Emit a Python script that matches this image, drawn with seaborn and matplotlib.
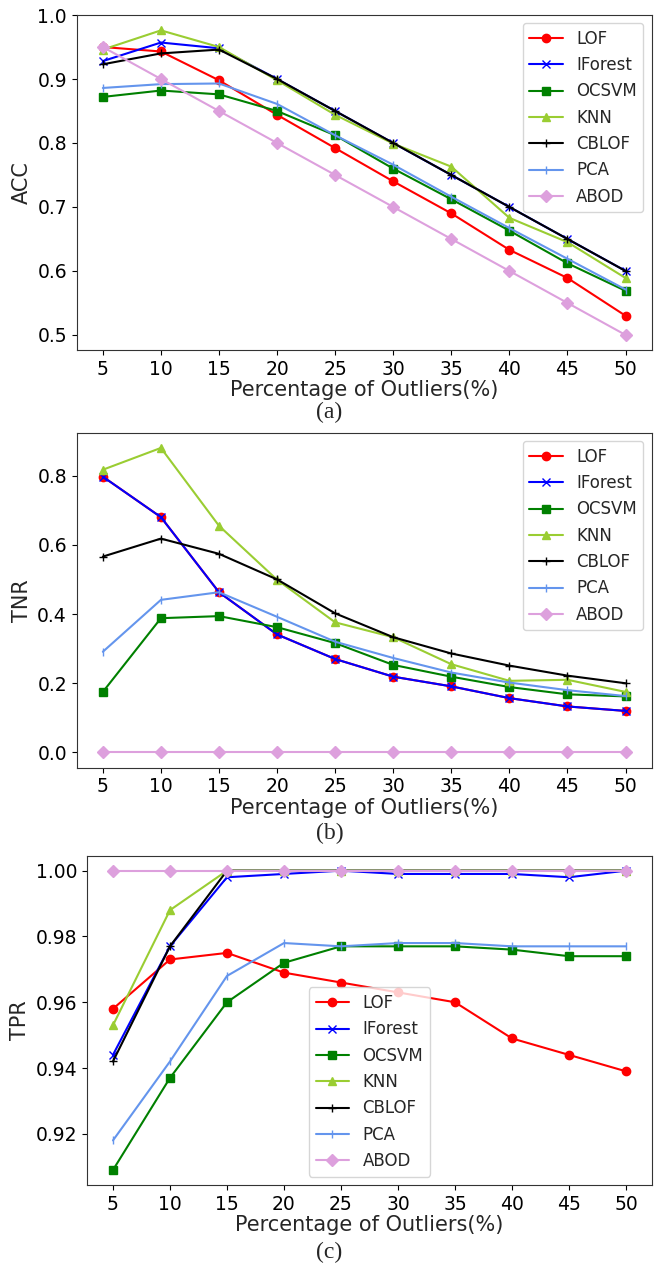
import numpy as np
import pandas as pd
import matplotlib
matplotlib.use("Agg")
import matplotlib.pyplot as plt
import seaborn as sns

pct = [5, 10, 15, 20, 25, 30, 35, 40, 45, 50]
methods = ["LOF", "IForest", "OCSVM", "KNN", "CBLOF", "PCA", "ABOD"]

acc_lof = [0.950, 0.943, 0.898, 0.844, 0.792, 0.740, 0.690, 0.633, 0.589, 0.530]
acc_iforest = [0.928, 0.957, 0.948, 0.900, 0.850, 0.800, 0.750, 0.700, 0.650, 0.600]
acc_ocsvm = [0.872, 0.882, 0.876, 0.850, 0.812, 0.760, 0.712, 0.663, 0.612, 0.569]
acc_knn = [0.946, 0.976, 0.950, 0.898, 0.844, 0.799, 0.763, 0.683, 0.645, 0.589]
acc_cblof = [0.923, 0.940, 0.946, 0.900, 0.850, 0.800, 0.750, 0.700, 0.650, 0.600]
acc_pca = [0.886, 0.892, 0.893, 0.861, 0.812, 0.766, 0.716, 0.667, 0.619, 0.571]
acc_abod = [0.950, 0.900, 0.850, 0.800, 0.750, 0.700, 0.650, 0.600, 0.550, 0.500]

tnr_lof = [0.797, 0.680, 0.463, 0.341, 0.270, 0.219, 0.191, 0.157, 0.133, 0.120]
tnr_iforest = [0.797, 0.680, 0.463, 0.341, 0.270, 0.219, 0.191, 0.157, 0.133, 0.120]
tnr_ocsvm = [0.175, 0.388, 0.394, 0.362, 0.316, 0.253, 0.219, 0.189, 0.168, 0.162]
tnr_knn = [0.817, 0.880, 0.655, 0.499, 0.376, 0.333, 0.255, 0.207, 0.210, 0.175]
tnr_cblof = [0.566, 0.618, 0.574, 0.500, 0.402, 0.333, 0.286, 0.251, 0.222, 0.200]
tnr_pca = [0.291, 0.441, 0.463, 0.392, 0.320, 0.273, 0.231, 0.202, 0.180, 0.163]
tnr_abod = [0.0] * 10

tpr_lof = [0.958, 0.973, 0.975, 0.969, 0.966, 0.963, 0.960, 0.949, 0.944, 0.939]
tpr_iforest = [0.944, 0.977, 0.998, 0.999, 1.000, 0.999, 0.999, 0.999, 0.998, 1.000]
tpr_ocsvm = [0.909, 0.937, 0.960, 0.972, 0.977, 0.977, 0.977, 0.976, 0.974, 0.974]
tpr_knn = [0.953, 0.988, 1.000, 1.000, 1.000, 1.000, 1.000, 1.000, 1.000, 1.000]
tpr_cblof = [0.942, 0.977, 1.000, 1.000, 1.000, 1.000, 1.000, 1.000, 1.000, 1.000]
tpr_pca = [0.918, 0.942, 0.968, 0.978, 0.977, 0.978, 0.978, 0.977, 0.977, 0.977]
tpr_abod = [1.000] * 10

colors = ["red", "blue", "green", "yellowgreen", "black", "cornflowerblue", "plum"]
markers = ["o", "x", "s", "^", "+", "|", "D"]

panels = [
    ("ACC", [acc_lof, acc_iforest, acc_ocsvm, acc_knn, acc_cblof, acc_pca, acc_abod], "upper right", "(a)", (0.4765, 1.0005)),
    ("TNR", [tnr_lof, tnr_iforest, tnr_ocsvm, tnr_knn, tnr_cblof, tnr_pca, tnr_abod], "upper right", "(b)", None),
    ("TPR", [tpr_lof, tpr_iforest, tpr_ocsvm, tpr_knn, tpr_cblof, tpr_pca, tpr_abod], "lower center", "(c)", None),
]

sns.set_style("ticks")
plt.rcParams["font.family"] = ["DejaVu Sans"]

fig = plt.figure(figsize=(6.59, 12.63), dpi=100)
H, W = 1263.0, 659.0
# axes boxes in pixels: left, top, right, bottom
boxes = [(76.7, 14.7, 651.7, 350.0), (76.7, 432.7, 651.7, 767.7), (87.3, 855.7, 651.7, 1185.0)]
caption_y = [412, 833, 1252]

for (ylabel, series, loc, cap, ylim), box, cy in zip(panels, boxes, caption_y):
    l, t, r, b = box
    ax = fig.add_axes([l / W, 1 - b / H, (r - l) / W, (b - t) / H])
    for name, vals, c, m in zip(methods, series, colors, markers):
        df = pd.DataFrame({"pct": pct, "val": vals})
        sns.lineplot(data=df, x="pct", y="val", ax=ax, color=c, marker=m,
                     markersize=6, markeredgecolor=c, markerfacecolor=c,
                     markeredgewidth=1.0, linewidth=1.5, label=name)
    ax.set_xticks(pct)
    if ylim is not None:
        ax.set_ylim(*ylim)
    ax.set_xlabel("Percentage of Outliers(%)", fontsize=15, labelpad=1)
    ax.set_ylabel(ylabel, fontsize=15)
    ax.tick_params(labelsize=13.5, colors="black")
    for s in ax.spines.values():
        s.set_color("#333333")
    ax.legend(loc=loc, fontsize=12, frameon=True)
    fig.text(0.5, 1 - cy / H, cap, ha="center", va="center", fontsize=17,
             family=["Liberation Serif"])

fig.savefig("out.png", dpi=100)
